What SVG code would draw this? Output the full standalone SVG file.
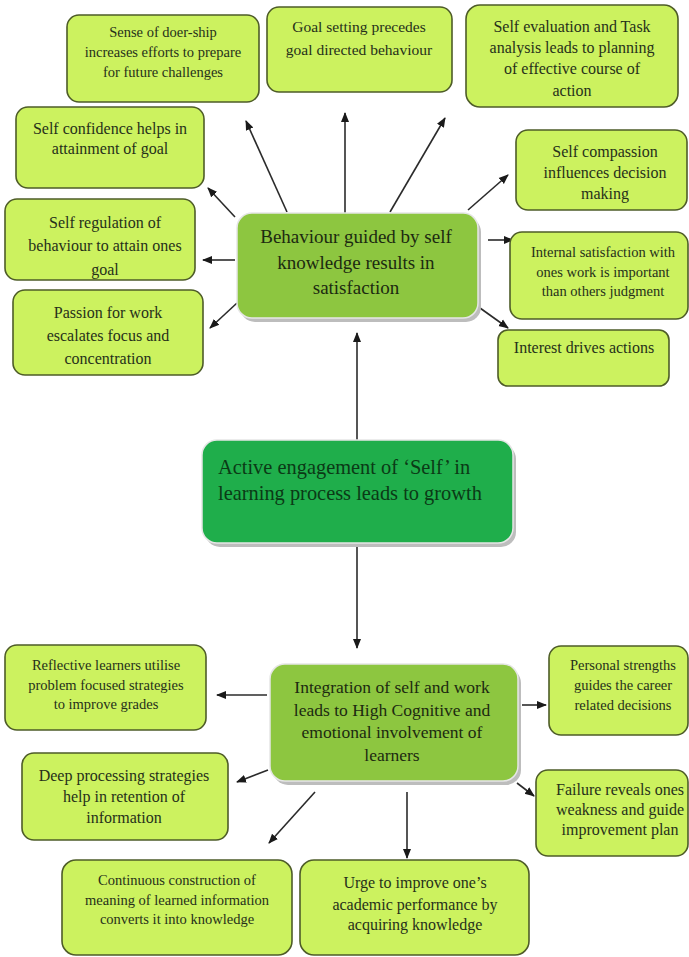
<svg xmlns="http://www.w3.org/2000/svg" width="689" height="957" viewBox="0 0 689 957">
<style>
.sb{fill:#ccf25f;stroke:#4e5c28;stroke-width:1.6}
.mb{fill:#8dc640;stroke:#e6e6e6;stroke-width:1.5}
.cb{fill:#1fae4b;stroke:#e6e6e6;stroke-width:1.5}
.sh{fill:#bdbdbd}
text{font-family:"Liberation Serif","Times New Roman",serif;fill:#26301a;text-anchor:middle}
.t14{font-size:14.5px}
.t15{font-size:15.5px}
.t16{font-size:16px}
.mt{font-size:19px;fill:#1c2a10}
.it{font-size:17.5px;fill:#1c2a10}
.ct{font-size:20.4px;fill:#0b3a16;text-anchor:start}
.ar{stroke:#2b2b2b;stroke-width:1.6;fill:none;marker-end:url(#ah)}
</style>
<defs>
<marker id="ah" markerUnits="userSpaceOnUse" markerWidth="10" markerHeight="10" viewBox="0 0 10 10" refX="9" refY="5" orient="auto">
<path d="M0,1 L10,5 L0,9 z" fill="#1a1a1a"/>
</marker>
</defs>
<rect width="689" height="957" fill="#ffffff"/>
<g id="connectors">
<line class="ar" x1="357" y1="440" x2="357" y2="333"/>
<line class="ar" x1="345" y1="213" x2="345" y2="113"/>
<line class="ar" x1="287" y1="212" x2="246" y2="121"/>
<line class="ar" x1="390" y1="212" x2="445" y2="118"/>
<line class="ar" x1="468" y1="210" x2="508" y2="175"/>
<line class="ar" x1="488" y1="240" x2="513" y2="240"/>
<line class="ar" x1="480" y1="308" x2="508" y2="328"/>
<line class="ar" x1="235" y1="217" x2="208" y2="188"/>
<line class="ar" x1="235" y1="260" x2="203" y2="260"/>
<line class="ar" x1="237" y1="303" x2="210" y2="328"/>
<line class="ar" x1="357" y1="543" x2="357" y2="648"/>
<line class="ar" x1="267" y1="695" x2="217" y2="695"/>
<line class="ar" x1="268" y1="770" x2="237" y2="782"/>
<line class="ar" x1="315" y1="792" x2="269" y2="843"/>
<line class="ar" x1="407" y1="792" x2="407" y2="858"/>
<line class="ar" x1="522" y1="705" x2="546" y2="705"/>
<line class="ar" x1="517" y1="783" x2="534" y2="796"/>
</g>
<g id="n-doership">
<rect class="sb" x="67" y="15" width="192" height="87" rx="12"/>
<text class="t14" x="163" y="37">Sense of doer-ship</text>
<text class="t14" x="163" y="57">increases efforts to prepare</text>
<text class="t14" x="163" y="77">for future challenges</text>
</g>
<g id="n-goalsetting">
<rect class="sb" x="267" y="7" width="185" height="85" rx="12"/>
<text class="t15" x="359" y="32">Goal setting precedes</text>
<text class="t15" x="359" y="55">goal directed behaviour</text>
</g>
<g id="n-selfeval">
<rect class="sb" x="466" y="5" width="212" height="102" rx="14"/>
<text class="t16" x="572" y="32">Self evaluation and Task</text>
<text class="t16" x="572" y="53">analysis leads to planning</text>
<text class="t16" x="572" y="74">of effective course of</text>
<text class="t16" x="572" y="96">action</text>
</g>
<g id="n-confidence">
<rect class="sb" x="16" y="107" width="188" height="81" rx="12"/>
<text class="t16" x="110" y="134">Self confidence helps in</text>
<text class="t16" x="110" y="154">attainment of goal</text>
</g>
<g id="n-compassion">
<rect class="sb" x="516" y="130" width="171" height="80" rx="12"/>
<text class="t16" x="605" y="157">Self compassion</text>
<text class="t16" x="605" y="178">influences decision</text>
<text class="t16" x="605" y="199">making</text>
</g>
<g id="n-regulation">
<rect class="sb" x="5" y="199" width="190" height="81" rx="12"/>
<text class="t16" x="105" y="228">Self regulation of</text>
<text class="t16" x="105" y="251">behaviour to attain ones</text>
<text class="t16" x="105" y="275">goal</text>
</g>
<g id="n-passion">
<rect class="sb" x="13" y="290" width="190" height="85" rx="12"/>
<text class="t16" x="108" y="318">Passion for work</text>
<text class="t16" x="108" y="341">escalates focus and</text>
<text class="t16" x="108" y="364">concentration</text>
</g>
<g id="n-behaviour">
<rect class="sh" x="240" y="217" width="241" height="105" rx="15"/>
<rect class="mb" x="237" y="213" width="241" height="105" rx="15"/>
<text class="mt" x="356" y="243">Behaviour guided by self</text>
<text class="mt" x="356" y="269">knowledge results in</text>
<text class="mt" x="356" y="294">satisfaction</text>
</g>
<g id="n-internal">
<rect class="sb" x="510" y="232" width="178" height="87" rx="12"/>
<text class="t14" x="603" y="257">Internal satisfaction with</text>
<text class="t14" x="603" y="277">ones work is important</text>
<text class="t14" x="603" y="296">than others judgment</text>
</g>
<g id="n-interest">
<rect class="sb" x="498" y="330" width="171" height="56" rx="10"/>
<text class="t16" x="584" y="353">Interest drives actions</text>
</g>
<g id="n-active">
<rect class="sh" x="205" y="444" width="311" height="103" rx="15"/>
<rect class="cb" x="202" y="440" width="311" height="103" rx="15"/>
<text class="ct" x="218" y="474">Active engagement of ‘Self’ in</text>
<text class="ct" x="218" y="500">learning process leads to growth</text>
</g>
<g id="n-integration">
<rect class="sh" x="273" y="668" width="248" height="117" rx="15"/>
<rect class="mb" x="270" y="664" width="248" height="117" rx="15"/>
<text class="it" x="392" y="693">Integration of self and work</text>
<text class="it" x="392" y="716">leads to High Cognitive and</text>
<text class="it" x="392" y="738">emotional involvement of</text>
<text class="it" x="392" y="761">learners</text>
</g>
<g id="n-reflective">
<rect class="sb" x="5" y="645" width="201" height="85" rx="12"/>
<text class="t14" x="106" y="670">Reflective learners utilise</text>
<text class="t14" x="106" y="690">problem focused strategies</text>
<text class="t14" x="106" y="709">to improve grades</text>
</g>
<g id="n-personal">
<rect class="sb" x="549" y="646" width="139" height="89" rx="12"/>
<text class="t14" x="623" y="670">Personal strengths</text>
<text class="t14" x="623" y="690">guides the career</text>
<text class="t14" x="623" y="710">related decisions</text>
</g>
<g id="n-deep">
<rect class="sb" x="22" y="753" width="206" height="87" rx="12"/>
<text class="t16" x="124" y="781">Deep processing strategies</text>
<text class="t16" x="124" y="802">help in retention of</text>
<text class="t16" x="124" y="823">information</text>
</g>
<g id="n-failure">
<rect class="sb" x="536" y="770" width="152" height="86" rx="12"/>
<text class="t16" x="620" y="795">Failure reveals ones</text>
<text class="t16" x="620" y="815">weakness and guide</text>
<text class="t16" x="620" y="835">improvement plan</text>
</g>
<g id="n-continuous">
<rect class="sb" x="62" y="860" width="230" height="95" rx="14"/>
<text class="t14" x="177" y="885">Continuous construction of</text>
<text class="t14" x="177" y="905">meaning of learned information</text>
<text class="t14" x="177" y="924">converts it into knowledge</text>
</g>
<g id="n-urge">
<rect class="sb" x="300" y="860" width="229" height="95" rx="14"/>
<text class="t16" x="415" y="888">Urge to improve one’s</text>
<text class="t16" x="415" y="910">academic performance by</text>
<text class="t16" x="415" y="930">acquiring knowledge</text>
</g>
</svg>
